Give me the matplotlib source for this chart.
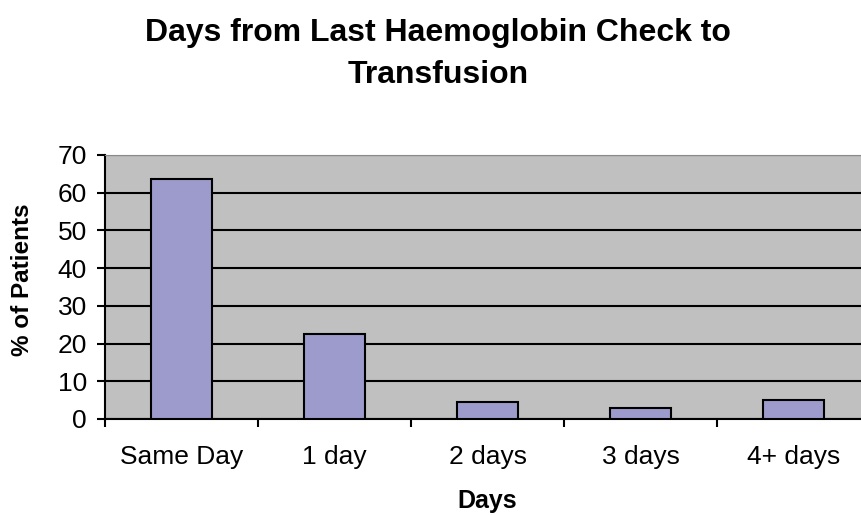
import matplotlib.pyplot as plt

categories = ['Same Day', '1 day', '2 days', '3 days', '4+ days']
percent = [63.6, 22.5, 4.6, 3.0, 5.1]
yticks = [0, 10, 20, 30, 40, 50, 60, 70]

plt.rcParams['font.family'] = ['Liberation Sans', 'DejaVu Sans']

fig = plt.figure(figsize=(8.61, 5.15), dpi=100)
ax = fig.add_axes([105 / 861, 1 - 419 / 515, 765 / 861, 264 / 515])
ax.set_facecolor('#C0C0C0')

x = list(range(len(categories)))
ax.bar(x, percent, width=0.4, color='#9D9BCB', edgecolor='black', linewidth=1.5, zorder=3)

ax.set_xlim(-0.5, len(categories) - 0.5)
ax.set_ylim(0, 70)
ax.set_yticks(yticks)
ax.set_yticklabels([str(v) for v in yticks], fontsize=19)
ax.yaxis.grid(True, color='black', linewidth=1.5, zorder=1)
ax.set_axisbelow(True)

ax.set_xticks(x)
ax.set_xticklabels(categories, fontsize=19)
ax.set_xticks([i - 0.5 for i in range(len(categories) + 1)], minor=True)
ax.tick_params(axis='x', which='major', length=0, pad=19)
ax.tick_params(axis='x', which='minor', length=6, width=1.5, direction='out')
ax.tick_params(axis='y', length=6, width=1.5, direction='out', pad=7)

for side in ['left', 'bottom']:
    ax.spines[side].set_linewidth(1.5)
ax.spines['top'].set_color('#8a8a8a')
ax.spines['right'].set_visible(False)

ax.set_xlabel('Days', fontsize=18, fontweight='bold', va='baseline')
ax.xaxis.set_label_coords(0.5, (419 - 508) / 264)
ax.set_ylabel('% of Patients', fontsize=17.5, fontweight='bold', va='center')
ax.yaxis.set_label_coords((23 - 105) / 765, (419 - 280) / 264)

fig.text(0.509, 1 - 41.5 / 515, 'Days from Last Haemoglobin Check to',
         ha='center', va='baseline', fontsize=23, fontweight='bold')
fig.text(0.509, 1 - 83 / 515, 'Transfusion',
         ha='center', va='baseline', fontsize=23, fontweight='bold')

fig.savefig('out.png', dpi=100)
